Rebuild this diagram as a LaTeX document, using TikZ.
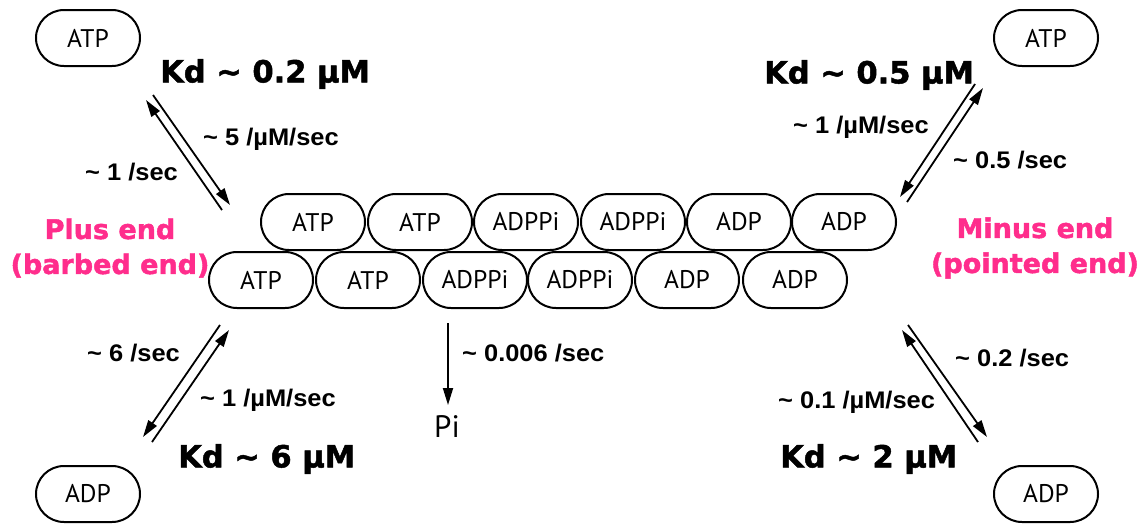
\documentclass[tikz,border=0pt]{standalone}
\usepackage{fontspec}
\setmainfont{PT Sans}
\newfontfamily\lib{Liberation Sans}[FakeStretch=1.06]
\newfontfamily\dvh{DejaVu Sans}[BoldFeatures={FakeBold=1.6}]
\usetikzlibrary{arrows.meta,shapes.misc}
\definecolor{endpink}{RGB}{255,45,140}
\begin{document}
\begin{tikzpicture}[x=1pt,y=-1pt,
 mono/.style={draw,line width=2pt,rounded rectangle,minimum width=104pt,minimum height=56pt,inner sep=0pt,font=\fontsize{25.5}{25.5}\selectfont},
 kd/.style={font=\dvh\bfseries\fontsize{30.5}{30.5}\selectfont,inner sep=0pt,anchor=west},
 rate/.style={font=\lib\bfseries\fontsize{24}{24}\selectfont,inner sep=0pt,anchor=west},
 endlab/.style={font=\dvh\bfseries\fontsize{27}{35}\selectfont,text=endpink,align=center,inner sep=0pt},
 rx/.style={line width=1.8pt,-{Triangle[length=17pt,width=10pt]}}]
\fill[white] (0,0) rectangle (1148,523);
% free nucleotides
\node[mono] (atpL) at (88,38) {ATP};
\node[mono] (atpR) at (1046,38) {ATP};
\node[mono] (adpL) at (88,494) {ADP};
\node[mono] (adpR) at (1046,494) {ADP};
% filament top row
\node[mono] (t1) at (313,222) {ATP};
\node[mono] (t2) at (420,222) {ATP};
\node[mono] (t3) at (526,222) {ADPPi};
\node[mono] (t4) at (633,222) {ADPPi};
\node[mono] (t5) at (739,222) {ADP};
\node[mono] (t6) at (844,222) {ADP};
% filament bottom row
\node[mono] (b1) at (261,280) {ATP};
\node[mono] (b2) at (368,280) {ATP};
\node[mono] (b3) at (475,280) {ADPPi};
\node[mono] (b4) at (580,280) {ADPPi};
\node[mono] (b5) at (687,280) {ADP};
\node[mono] (b6) at (795,280) {ADP};
% labels
\node[kd] (kd1) at (160,74) {Kd \textasciitilde{} 0.2 µM};
\node[kd] (kd2) at (764,75) {Kd \textasciitilde{} 0.5 µM};
\node[kd] (kd3) at (178,459) {Kd \textasciitilde{} 6 µM};
\node[kd] (kd4) at (780,459) {Kd \textasciitilde{} 2 µM};
\node[rate] (r1) at (203,139) {\textasciitilde{} 5 /µM/sec};
\node[rate] (r2) at (85,172) {\textasciitilde{} 1 /sec};
\node[rate] (r3) at (793,127) {\textasciitilde{} 1 /µM/sec};
\node[rate] (r4) at (953,160) {\textasciitilde{} 0.5 /sec};
\node[rate] (r5) at (87,353) {\textasciitilde{} 6 /sec};
\node[rate] (r6) at (200,400) {\textasciitilde{} 1 /µM/sec};
\node[rate] (r7) at (955,358) {\textasciitilde{} 0.2 /sec};
\node[rate] (r8) at (778,402) {\textasciitilde{} 0.1 /µM/sec};
\node[rate] (r9) at (462,353) {\textasciitilde{} 0.006 /sec};
\node[endlab] (plus) at (110,248) {Plus end\\(barbed end)};
\node[endlab] (minus) at (1035,248) {Minus end\\(pointed end)};
\node[font=\fontsize{31}{31}\selectfont,inner sep=0pt] (pi) at (447,427) {Pi};
% arrow end points
\coordinate (a1s) at (222,210); \coordinate (a1e) at (146,100);
\coordinate (a2s) at (153,95);  \coordinate (a2e) at (230,205);
\coordinate (a3s) at (975,84);  \coordinate (a3e) at (900,197);
\coordinate (a4s) at (907,202); \coordinate (a4e) at (983,88);
\coordinate (a5s) at (220,325); \coordinate (a5e) at (143,437);
\coordinate (a6s) at (152,442); \coordinate (a6e) at (229,330);
\coordinate (a7s) at (978,442); \coordinate (a7e) at (902,330);
\coordinate (a8s) at (908,325); \coordinate (a8e) at (987,437);
\coordinate (pis) at (448,323);
\coordinate (pie) at (448,405);
\draw[rx] (a1s) -- (a1e);
\draw[rx] (a2s) -- (a2e);
\draw[rx] (a3s) -- (a3e);
\draw[rx] (a4s) -- (a4e);
\draw[rx] (a5s) -- (a5e);
\draw[rx] (a6s) -- (a6e);
\draw[rx] (a7s) -- (a7e);
\draw[rx] (a8s) -- (a8e);
\draw[rx] (pis) -- (pie);
\end{tikzpicture}
\end{document}
